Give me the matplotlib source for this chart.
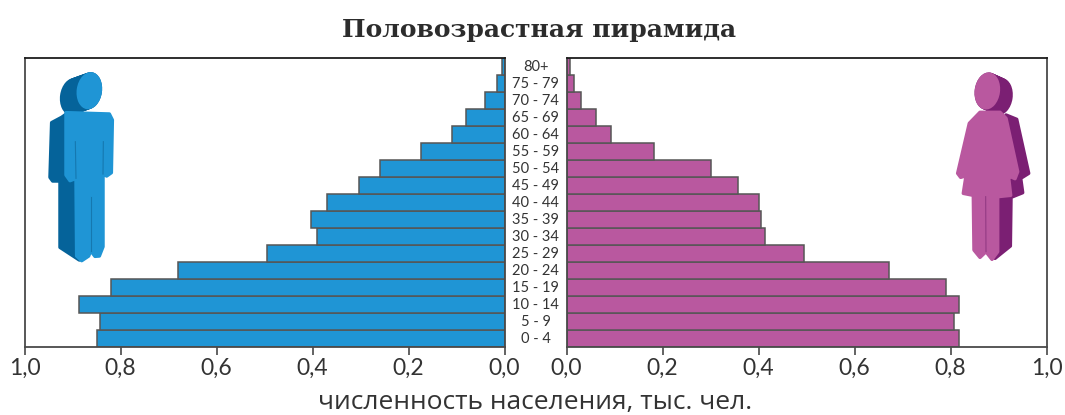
import matplotlib
matplotlib.use('Agg')
import numpy as np
import matplotlib.pyplot as plt
from matplotlib.patches import Ellipse, Polygon

W, H = 1065, 415

ages = ['0 - 4', '5 - 9', '10 - 14', '15 - 19', '20 - 24', '25 - 29', '30 - 34',
        '35 - 39', '40 - 44', '45 - 49', '50 - 54', '55 - 59', '60 - 64',
        '65 - 69', '70 - 74', '75 - 79', '80+']
men = [0.850, 0.842, 0.887, 0.819, 0.680, 0.494, 0.390, 0.404, 0.369,
       0.304, 0.260, 0.175, 0.110, 0.080, 0.040, 0.015, 0.006]
women = [0.818, 0.807, 0.818, 0.790, 0.672, 0.495, 0.414, 0.405, 0.400,
         0.357, 0.300, 0.182, 0.092, 0.062, 0.030, 0.015, 0.008]
ticks = [0.0, 0.2, 0.4, 0.6, 0.8, 1.0]
tick_labels = ['0,0', '0,2', '0,4', '0,6', '0,8', '1,0']

BLUE = '#1f95d5'
BLUE_DARK = '#05639a'
PINK = '#b9589f'
PINK_DARK = '#7b1f73'
EDGE = '#565656'
TEXT = '#333333'

plt.rcParams['font.family'] = ['Lato', 'Open Sans', 'DejaVu Sans']


def px_axes(fig, x0, x1, y0, y1):
    return fig.add_axes([x0 / W, 1 - y1 / H, (x1 - x0) / W, (y1 - y0) / H])


def style(ax):
    ax.set_ylim(-0.5, 16.5)
    ax.set_yticks([])
    ax.set_xticks(ticks)
    ax.set_xticklabels(tick_labels, fontsize=16.5, color=TEXT)
    ax.tick_params(axis='x', length=6, width=1.3, color=EDGE, pad=2)
    for s in ax.spines.values():
        s.set_color('#4a4a4a')
        s.set_linewidth(1.3)
    ax.spines['top'].set_color('#1c1c1c')
    ax.patch.set_alpha(0)


fig = plt.figure(figsize=(W / 100, H / 100), dpi=100)

ax_l = px_axes(fig, 24.5, 504.5, 58, 347)
ax_l.barh(range(len(ages)), men, height=1, color=BLUE, edgecolor=EDGE, linewidth=1.1)
ax_l.set_xlim(1, 0)
style(ax_l)

ax_r = px_axes(fig, 566.5, 1046.5, 58, 347)
ax_r.barh(range(len(ages)), women, height=1, color=PINK, edgecolor=EDGE, linewidth=1.1)
ax_r.set_xlim(0, 1)
style(ax_r)

ax_m = px_axes(fig, 504.5, 566.5, 58, 347)
ax_m.set_ylim(-0.5, 16.5)
ax_m.axis('off')
for i, a in enumerate(ages):
    ax_m.text(0.5, i, a, transform=ax_m.get_yaxis_transform(), ha='center', va='center',
              fontsize=10.5, color=TEXT)

# pictograms, traced in pixels of the picture
ov = fig.add_axes([0, 0, 1, 1])
ov.set_xlim(0, W)
ov.set_ylim(H, 0)
ov.axis('off')
ov.patch.set_alpha(0)


def shape(pts, color, x0, y0):
    pts = np.array(pts, dtype=float) / 3 + [x0, y0]
    ov.add_patch(Polygon(pts, closed=True, fc=color, ec=color, lw=2.5, joinstyle='round'))


def head(cx, cy, rx, ry, color, x0, y0):
    ov.add_patch(Ellipse((cx / 3 + x0, cy / 3 + y0), 2 * rx / 3, 2 * ry / 3, angle=8, fc=color, ec='none'))


def seam(pts, color, x0, y0):
    pts = np.array(pts, dtype=float) / 3 + [x0, y0]
    ov.plot(pts[:, 0], pts[:, 1], color=color, lw=0.8)


# man
for t in np.linspace(0, 1, 15):
    head(268 - 50 * t, 152 + 18 * t, 38, 56, BLUE_DARK, 0, 40)
shape([(185, 232), (155, 248), (150, 412), (158, 423), (180, 423), (180, 622), (238, 660),
       (250, 300), (205, 218)], BLUE_DARK, 0, 40)
shape([(198, 218), (328, 222), (337, 240), (334, 398), (320, 408), (309, 402), (309, 620),
       (298, 648), (285, 649), (272, 632), (266, 648), (245, 662), (230, 648), (228, 415),
       (210, 422), (198, 405)], BLUE, 0, 40)
head(268, 152, 38, 56, BLUE, 0, 40)
seam([(226, 305), (228, 415)], '#1578b0', 0, 40)
seam([(310, 305), (309, 402)], '#1578b0', 0, 40)
seam([(272, 470), (272, 632)], '#1578b0', 0, 40)

# woman
for t in np.linspace(0, 1, 15):
    head(262 + 38 * t, 153 + 17 * t, 38, 56, PINK_DARK, 900, 40)
shape([(318, 225), (350, 238), (386, 400), (362, 415), (368, 458), (333, 472), (331, 618),
       (285, 655), (290, 470), (300, 300)], PINK_DARK, 900, 40)
shape([(240, 217), (300, 217), (318, 235), (353, 395), (345, 416), (332, 410), (318, 345),
       (332, 466), (293, 470), (293, 635), (276, 658), (258, 635), (240, 652), (222, 630),
       (220, 466), (190, 460), (207, 350), (195, 408), (182, 412), (173, 400), (208, 250)],
      PINK, 900, 40)
head(262, 153, 38, 56, PINK, 900, 40)
seam([(257, 470), (258, 635)], '#933a84', 900, 40)

fig.text(539 / W, 1 - 30 / H, 'Половозрастная пирамида', family='DejaVu Serif', weight='bold',
         fontsize=18, color='#2c2c2c', ha='center', va='center')
fig.text(535 / W, 1 - 402 / H, 'численность населения, тыс. чел.', family='Open Sans',
         fontsize=19, color=TEXT, ha='center', va='center')

fig.savefig('out.png', dpi=100, facecolor='white')
